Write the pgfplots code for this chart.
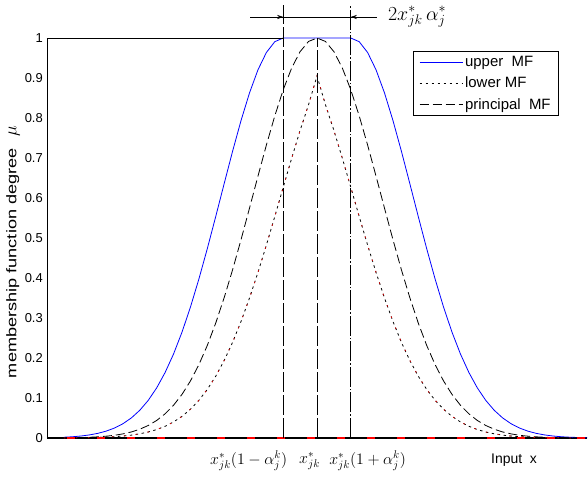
\documentclass[border=0pt]{standalone}
\usepackage{fix-cm}
\usepackage{fontspec}
\setmainfont{Liberation Sans}
\usepackage{pgfplots}
\usepackage{pgfplotstable}
\usepackage{graphicx}
\pgfplotsset{compat=1.18}
\usetikzlibrary{arrows.meta}

% upper, principal and lower membership functions of the interval type-2 set
\pgfplotstableread{
x      upper   principal lower
2.50   0.0019  0.0004    0.0002
2.75   0.0031  0.0007    0.0004
3.00   0.0049  0.0011    0.0006
3.25   0.0076  0.0018    0.0009
3.50   0.0115  0.0029    0.0014
3.75   0.0171  0.0045    0.0022
4.00   0.0249  0.0068    0.0033
4.25   0.0357  0.0103    0.0049
4.50   0.0502  0.0151    0.0072
4.75   0.0694  0.0220    0.0105
5.00   0.0941  0.0313    0.0150
5.25   0.1253  0.0439    0.0211
5.50   0.1638  0.0605    0.0293
5.75   0.2101  0.0819    0.0401
6.00   0.2646  0.1090    0.0541
6.25   0.3272  0.1426    0.0719
6.50   0.3973  0.1833    0.0942
6.75   0.4734  0.2315    0.1215
7.00   0.5539  0.2875    0.1546
7.25   0.6361  0.3509    0.1938
7.50   0.7172  0.4208    0.2394
7.75   0.7939  0.4960    0.2916
8.00   0.8627  0.5746    0.3499
8.25   0.9203  0.6543    0.4138
8.50   0.9637  0.7323    0.4822
8.75   0.9908  0.8054    0.5539
9.00   1.0000  0.8707    0.6271
9.25   1.0000  0.9251    0.6995
9.50   1.0000  0.9660    0.7691
9.75   1.0000  0.9914    0.8333
10.00  1.0000  1.0000    0.9050
10.25  1.0000  0.9914    0.8333
10.50  1.0000  0.9660    0.7691
10.75  1.0000  0.9251    0.6995
11.00  1.0000  0.8707    0.6271
11.25  0.9908  0.8054    0.5539
11.50  0.9637  0.7323    0.4822
11.75  0.9203  0.6543    0.4138
12.00  0.8627  0.5746    0.3499
12.25  0.7939  0.4960    0.2916
12.50  0.7172  0.4208    0.2394
12.75  0.6361  0.3509    0.1938
13.00  0.5539  0.2875    0.1546
13.25  0.4734  0.2315    0.1215
13.50  0.3973  0.1833    0.0942
13.75  0.3272  0.1426    0.0719
14.00  0.2646  0.1090    0.0541
14.25  0.2101  0.0819    0.0401
14.50  0.1638  0.0605    0.0293
14.75  0.1253  0.0439    0.0211
15.00  0.0941  0.0313    0.0150
15.25  0.0694  0.0220    0.0105
15.50  0.0502  0.0151    0.0072
15.75  0.0357  0.0103    0.0049
16.00  0.0249  0.0068    0.0033
16.25  0.0171  0.0045    0.0022
16.50  0.0115  0.0029    0.0014
16.75  0.0076  0.0018    0.0009
17.00  0.0049  0.0011    0.0006
17.25  0.0031  0.0007    0.0004
17.50  0.0019  0.0004    0.0002
17.75  0.0012  0.0002    0.0001
18.00  0.0007  0.0001    0.0001
}\mftable

\begin{document}
\begin{tikzpicture}
\useasboundingbox (-47bp,-39bp) rectangle (541bp,438bp);
\begin{axis}[
  at={(0,0)}, anchor=south west,
  scale only axis, width=540bp, height=400bp,
  xmin=2, xmax=18, ymin=0, ymax=1,
  clip=false,
  axis x line*=bottom, axis y line*=left,
  axis line style={-, line width=0.8bp},
  x axis line style={line width=1.6bp},
  xtick=\empty,
  ytick={0,0.1,0.2,0.3,0.4,0.5,0.6,0.7,0.8,0.9,1},
  yticklabels={0,0.1,0.2,0.3,0.4,0.5,0.6,0.7,0.8,0.9,1},
  major tick length=0pt,
  /pgf/number format/assume math mode=true,
  yticklabel style={font=\fontsize{13}{15}\selectfont, inner sep=0pt, xshift=-4bp},
  legend style={at={(rel axis cs:0.948,0.9675)}, anchor=north east,
    draw=black, line width=0.6bp, font=\fontsize{15}{17}\selectfont,
    inner xsep=6bp, inner ysep=3bp, row sep=5bp},
  legend cell align=left,
  legend image code/.code={\draw[#1] (0bp,0bp) -- (43bp,0bp);},
]
\addplot[blue, line width=0.8bp] table[x=x, y=upper]{\mftable};
\addlegendentry{upper\ \ MF}
\addplot[black, line width=0.8bp, dash pattern=on 2.5bp off 3.5bp] table[x=x, y=lower]{\mftable};
\addlegendentry{lower MF}
\addplot[black, line width=0.8bp, dash pattern=on 9bp off 4bp] table[x=x, y=principal]{\mftable};
\addlegendentry{principal\ \ MF}
\addplot[red!85!black, line width=0.8bp, dash pattern=on 1.5bp off 10.5bp, forget plot] table[x=x, y=lower]{\mftable};

% zero level of the lower bound along the input axis
\addplot[red, line width=1.6bp, dash pattern=on 8bp off 22bp, forget plot] coordinates {(2.6,0) (18,0)};

% reference lines at the spread limits and the centre
\addplot[black, line width=0.6bp, dash pattern=on 20bp off 3bp, forget plot] coordinates {(9,0) (9,1.0825)};
\addplot[black, line width=0.6bp, dash pattern=on 20bp off 3bp, forget plot] coordinates {(10,0) (10,1)};
\addplot[black, line width=1.1bp, dash pattern=on 20bp off 2bp on 1.5bp off 2bp, forget plot] coordinates {(11,0) (11,1.0825)};
\addplot[black, line width=0.8bp, forget plot] coordinates {(2,1) (9,1)};

% width of the plateau
\draw[line width=0.6bp] (axis cs:8.02,1.0525) -- (axis cs:11.78,1.0525);
\draw[line width=0.6bp, -{Stealth[length=6bp,width=4bp]}] (axis cs:8.4,1.0525) -- (axis cs:9,1.0525);
\draw[line width=0.6bp, -{Stealth[length=6bp,width=4bp]}] (axis cs:11.6,1.0525) -- (axis cs:11,1.0525);
\node[anchor=west, font=\fontsize{20}{22}\selectfont, inner sep=0pt] at (axis cs:12.1,1.0525) {$2x^{*}_{jk}\,\alpha^{*}_{j}$};

% input-axis annotations
\node[anchor=east, font=\fontsize{16}{18}\selectfont, inner sep=0pt] at (axis cs:9.12,-0.057) {$x^{*}_{jk}\Bigl(1-\alpha^{k}_{j}\Bigr)$};
\node[font=\fontsize{16}{18}\selectfont, inner sep=0pt] at (axis cs:9.78,-0.057) {$x^{*}_{jk}$};
\node[anchor=west, font=\fontsize{16}{18}\selectfont, inner sep=0pt] at (axis cs:10.36,-0.057) {$x^{*}_{jk}\Bigl(1+\alpha^{k}_{j}\Bigr)$};
\node[font=\fontsize{14}{16}\selectfont, inner sep=0pt] at (axis cs:15.84,-0.055) {Input\ \ x};

% vertical axis title
\node[rotate=90, font=\fontsize{14}{16}\selectfont, inner sep=0pt] at ([xshift=-34bp]axis description cs:0,0.465) {\scalebox{1.3}[1]{membership function degree}\ \ \ \scalebox{1.3}{$\mu$}};
\end{axis}
\end{tikzpicture}
\end{document}
